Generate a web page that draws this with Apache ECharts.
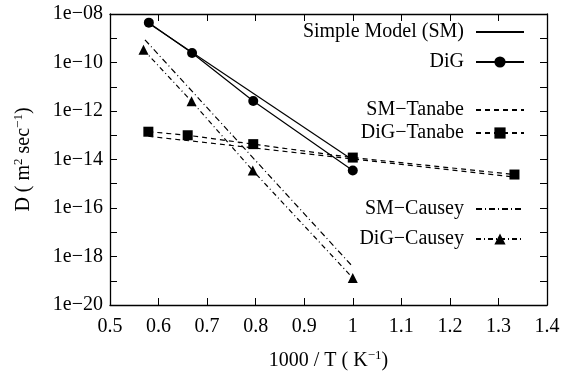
<!DOCTYPE html>
<html>
<head>
<meta charset="utf-8">
<script src="https://cdn.jsdelivr.net/npm/echarts@6/dist/echarts.min.js"></script>
<style>
  html, body { margin: 0; padding: 0; background: #fff; }
  #chart { width: 574px; height: 376px; }
</style>
</head>
<body>
<div id="chart"></div>
<script>
// Values (x = 1000/T, D in m^2/s)
const smX = [0.578, 1.0];
const smD = [4.4e-9, 9.5e-15];
const digX = [0.58, 0.669, 0.795, 1.0];
const digD = [4.4e-9, 2.45e-10, 2.6e-12, 3.5e-15];
const smTanX = [0.579, 1.333];
const smTanD = [9.1e-14, 1.9e-15];
const digTanX = [0.579, 0.66, 0.795, 1.0, 1.333];
const digTanD = [1.4e-13, 1.0e-13, 4.3e-14, 1.2e-14, 2.4e-15];
const smCauX = [0.572, 0.997];
const smCauD = [8.6e-10, 4.4e-19];
const digCauX = [0.569, 0.668, 0.794, 1.0];
const digCauD = [3.35e-10, 2.5e-12, 3.5e-15, 1.3e-19];

const seriesNames = ['Simple Model (SM)', 'DiG', 'SM\u2212Tanabe', 'DiG\u2212Tanabe', 'SM\u2212Causey', 'DiG\u2212Causey'];
const legendTops = [22, 52, 100, 123, 199, 229];
const legendHasMarker = [false, true, false, true, false, true];

const FONT = 'Liberation Serif';
const BLACK = '#000';

function pairs(xs, ys) {
  return xs.map((x, i) => [x, ys[i]]);
}

// "1e-08" style labels, every second decade
function logLabel(v) {
  const e = Math.round(Math.log10(v));
  if (e % 2 !== 0) return '';
  return '1e\u2212' + String(-e).padStart(2, '0');
}

const chart = echarts.init(document.getElementById('chart'));

const tickStyle = { inside: true, length: 7, lineStyle: { color: BLACK, width: 1 } };
const lineAxis = { show: true, lineStyle: { color: BLACK, width: 1.3 } };

function lineSeries(name, data, dash, symbol) {
  return {
    name,
    type: 'line',
    data,
    symbol: symbol || 'none',
    symbolSize: 10,
    showSymbol: !!symbol,
    itemStyle: { color: BLACK },
    lineStyle: { color: BLACK, width: 1.2, type: dash },
    animation: false,
  };
}

const option = {
  backgroundColor: '#fff',
  animation: false,
  textStyle: { fontFamily: FONT, color: BLACK },

  legend: seriesNames.map((n, i) => {
    const lg = {
      data: [n],
      right: 49,
      top: legendTops[i],
      align: 'right',
      padding: 0,
      itemWidth: 48,
      itemHeight: 14,
      textStyle: { fontFamily: FONT, fontSize: 20, color: BLACK, padding: [0, 7, 0, 0] },
      selectedMode: false,
    };
    if (!legendHasMarker[i]) lg.itemStyle = { opacity: 0 };
    return lg;
  }),

  grid: { left: 110, right: 27, top: 14, bottom: 69 },

  xAxis: [
    {
      type: 'value',
      min: 0.5,
      max: 1.4,
      interval: 0.1,
      name: '1000 / T ( K{sup|\u22121})',
      nameLocation: 'middle',
      nameGap: 44,
      nameTextStyle: {
        fontFamily: FONT, fontSize: 20, color: BLACK,
        rich: { sup: { fontFamily: FONT, fontSize: 13, color: BLACK, verticalAlign: 'top', lineHeight: 24 } },
      },
      axisLine: lineAxis,
      axisTick: tickStyle,
      splitLine: { show: false },
      axisLabel: { fontFamily: FONT, fontSize: 20, color: BLACK, margin: 12 },
    },
    {
      type: 'value',
      position: 'top',
      min: 0.5,
      max: 1.4,
      interval: 0.1,
      axisLine: lineAxis,
      axisTick: tickStyle,
      splitLine: { show: false },
      axisLabel: { show: false },
    },
  ],

  yAxis: [
    {
      type: 'log',
      logBase: 10,
      min: 1e-20,
      max: 1e-8,
      interval: 1,
      name: 'D ( m{sup|2} sec{sup|\u22121})',
      nameLocation: 'middle',
      nameGap: 74,
      nameTextStyle: {
        fontFamily: FONT, fontSize: 20, color: BLACK,
        rich: { sup: { fontFamily: FONT, fontSize: 13, color: BLACK, verticalAlign: 'top', lineHeight: 24 } },
      },
      axisLine: lineAxis,
      axisTick: tickStyle,
      splitLine: { show: false },
      axisLabel: { fontFamily: FONT, fontSize: 20, color: BLACK, margin: 7, formatter: logLabel },
    },
    {
      type: 'log',
      logBase: 10,
      min: 1e-20,
      max: 1e-8,
      interval: 1,
      position: 'right',
      axisLine: lineAxis,
      axisTick: tickStyle,
      splitLine: { show: false },
      axisLabel: { show: false },
    },
  ],

  series: [
    lineSeries(seriesNames[0], pairs(smX, smD), 'solid'),
    lineSeries(seriesNames[1], pairs(digX, digD), 'solid', 'circle'),
    lineSeries(seriesNames[2], pairs(smTanX, smTanD), [5, 4]),
    lineSeries(seriesNames[3], pairs(digTanX, digTanD), [5, 4], 'rect'),
    lineSeries(seriesNames[4], pairs(smCauX, smCauD), [6, 3, 1, 3]),
    lineSeries(seriesNames[5], pairs(digCauX, digCauD), [5, 3, 1, 3], 'triangle'),
  ],
};

chart.setOption(option);
</script>
</body>
</html>
